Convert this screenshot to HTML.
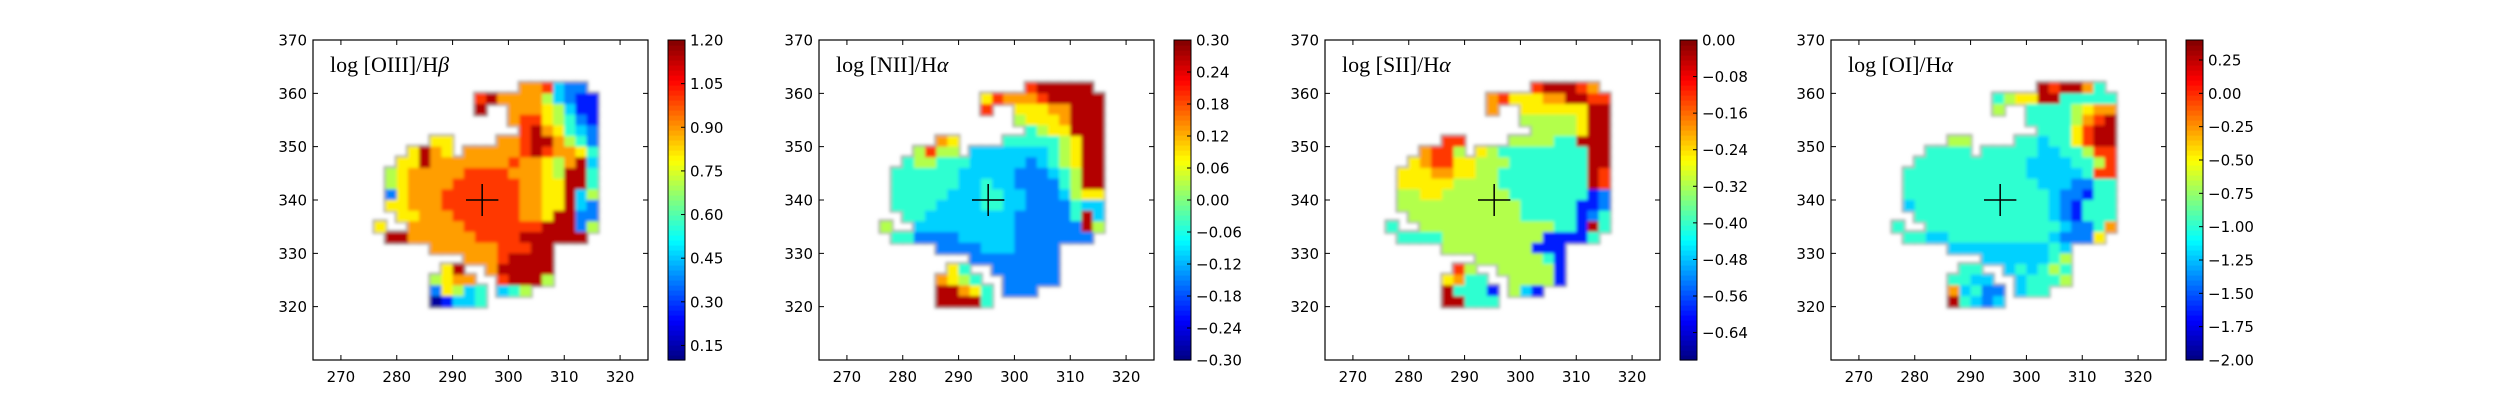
<!DOCTYPE html>
<html><head><meta charset="utf-8"><style>
html,body{margin:0;padding:0;background:#fff;}
svg{display:block;}
text{font-family:"DejaVu Sans","Liberation Sans",sans-serif;font-size:15px;fill:#000;}
.ttl{font-family:"Liberation Serif","DejaVu Serif",serif;font-size:22px;}
</style></head><body>
<svg id="fig" width="2500" height="400" viewBox="0 0 2500 400">
<defs><filter id="soft" x="-5%" y="-5%" width="110%" height="110%"><feGaussianBlur stdDeviation="1.6"/></filter></defs>
</svg>
<script>
// ---- data ----
const xTicks = [270, 280, 290, 300, 310, 320];
const yTicks = [320, 330, 340, 350, 360, 370];
const titles = ["OIII", "NII", "SII", "OI"];
const titleLines = ["β", "α", "α", "α"];
const cbMin = [0.10, -0.30, -0.70, -2.00];
const cbMax = [1.20, 0.30, 0.00, 0.40];
const cbTicks0 = ["0.15","0.30","0.45","0.60","0.75","0.90","1.05","1.20"];
const cbTicks1 = ["-0.30","-0.24","-0.18","-0.12","-0.06","0.00","0.06","0.12","0.18","0.24","0.30"];
const cbTicks2 = ["-0.64","-0.56","-0.48","-0.40","-0.32","-0.24","-0.16","-0.08","0.00"];
const cbTicks3 = ["-2.00","-1.75","-1.50","-1.25","-1.00","-0.75","-0.50","-0.25","0.00","0.25"];
// colour-level for each map digit (fraction of colour scale)
const levels = [0.03, 0.15, 0.25, 0.33, 0.42, 0.55, 0.64, 0.72, 0.82, 0.95];
const centerX = 295.3, centerY = 340;
const gridX0 = 276, gridYTop = 362, cell = 2;
const map0 = [
".............778322.",".........89777753211",".........9..77765311","............78865421",".............8976432",
".....66....778997542","...6976.777778987764","..669777777787765793",".5677777888877765994",".5677778888887766994",
".2677788888887766935",".6677788888887766932","..667778888887769922","6..77777888888899925",".997777778888999999.",
".....77777788899....","........77789999....","......69..799999....",".....5677..89995....",".....26534.345......",".....01334.........."];
const map1 = [
".............899999.",".........68777899999",".........8..66677999","............56667999",".............4566999",
".....76....444445699","...5855.333333345699","..455444333332345699",".4444443333322234599",".4444443343322224599",
".4444433344332223566",".4444333344332222433","..443333333322222493","5..33333333322222295",".442222333332222222.",
".....22223332222....","........22222222....","......64..222222....",".....7654..22222....",".....99764.222......",".....99994.........."];
const map2 = [
".............899987.",".........78666779988",".........7..66666699","............55555699",".............5555699",
".....88....555544999","...7885.654444444499","..678866555444444499",".6667766554444444498",".6666655554444444498",
".5566555555444444412",".5555555555544444112","..555555555544444124","4..55555555555544194",".444455555555511114.",
".....55555555111....","........55555541....","......85..555551....",".....6744..55551....",".....94441.531......",".....99444.........."];
const map3 = [
".............989974.",".........45669944444",".........5..44445677","............44445789",".............4446899",
".....55....443446899","...4444.444443344588","..444444444433334458",".4444444444433333488",".4444444444443332244",
".4444444444444322144",".3444444444444321444","..444444444444321444","4..44444444444432247",".443344444444432226.",
".....33333333343....","........33333345....","......44..343454....",".....4433..34445....",".....73422.344......",".....94323.........."];
const maps = [map0, map1, map2, map3];
const cbTicks = [cbTicks0, cbTicks1, cbTicks2, cbTicks3];

// ---- layout ----
const NS = "http://www.w3.org/2000/svg";
const svg = document.getElementById("fig");
const AX_W = 335, AX_TOP = 40, AX_H = 320, PANEL_STEP = 506, AX_LEFT0 = 313;
const XMIN = 265, XMAX = 325, YMIN = 310, YMAX = 370;
function jet(t){
  const c = v => Math.round(255*Math.max(0, Math.min(1, v)));
  return `rgb(${c(1.5-Math.abs(4*t-3))},${c(1.5-Math.abs(4*t-2))},${c(1.5-Math.abs(4*t-1))})`;
}
function el(tag, attrs, parent){
  const e = document.createElementNS(NS, tag);
  for (const k in attrs) e.setAttribute(k, attrs[k]);
  (parent||svg).appendChild(e);
  return e;
}
for (let p = 0; p < 4; p++){
  const L = AX_LEFT0 + p*PANEL_STEP;
  const sx = v => L + (v - XMIN) / (XMAX - XMIN) * AX_W;
  const sy = v => AX_TOP + (YMAX - v) / (YMAX - YMIN) * AX_H;
  const g = el("g", {});
  
  
  const hm = el("g", {filter: "url(#soft)"}, g);
  
  
  const m = maps[p];
  const cw = sx(gridX0 + cell) - sx(gridX0), ch = sy(0) - sy(cell);
  for (let r = 0; r < m.length; r++) for (let c = 0; c < m[r].length; c++){
    if (m[r][c] === ".") continue;
    el("rect", {x: sx(gridX0 + c*cell) - 2, y: sy(gridYTop - r*cell) - 2, width: cw + 4, height: ch + 4, fill: "#aaaaaa"}, hm);
  }
  for (let r = 0; r < m.length; r++) for (let c = 0; c < m[r].length; c++){
    const ch_ = m[r][c];
    if (ch_ === ".") continue;
    const cellEl = el("rect", {x: sx(gridX0 + c*cell), y: sy(gridYTop - r*cell), width: cw + 0.5, height: ch + 0.5, fill: jet(levels[parseInt(ch_)])}, hm);
    
    
  }
  const cr = el("path", {d: `M${sx(centerX-2.9)},${sy(centerY)}H${sx(centerX+2.9)}M${sx(centerX)},${sy(centerY+3)}V${sy(centerY-3)}`, stroke: "#000", "stroke-width": 1.5, fill: "none"}, g);
  
  
  const fr = el("rect", {x: L, y: AX_TOP, width: AX_W, height: AX_H, fill: "none", stroke: "#000", "stroke-width": 1.2}, g);
  
  
  xTicks.forEach(t => {
    const X = sx(t);
    el("path", {d: `M${X},${AX_TOP+AX_H}v-5M${X},${AX_TOP}v5`, stroke: "#000", "stroke-width": 1}, g);
    const tx = el("text", {x: X, y: AX_TOP + AX_H + 22, "text-anchor": "middle"}, g);
    tx.textContent = t;
    
    
  });
  yTicks.forEach(t => {
    const Y = sy(t);
    el("path", {d: `M${L},${Y}h5M${L+AX_W},${Y}h-5`, stroke: "#000", "stroke-width": 1}, g);
    const tx = el("text", {x: L - 6, y: Y + 5.5, "text-anchor": "end"}, g);
    tx.textContent = t;
    
    
  });
  const tt = el("text", {x: L + 17, y: 72, class: "ttl"}, g);
  tt.textContent = "log [" + titles[p] + "]/H";
  const gr = el("tspan", {"font-style": "italic"}, tt);
  gr.textContent = titleLines[p];
  
  
  const CL = L + 355, CW = 17;
  const cb = el("g", {});
  
  
  const steps = 64;
  for (let i = 0; i < steps; i++){
    el("rect", {x: CL, y: AX_TOP + AX_H - (i+1)*AX_H/steps, width: CW, height: AX_H/steps + 0.6, fill: jet((i+0.5)/steps)}, cb);
  }
  el("rect", {x: CL, y: AX_TOP, width: CW, height: AX_H, fill: "none", stroke: "#000", "stroke-width": 1}, cb);
  cbTicks[p].forEach(s => {
    const v = parseFloat(s);
    const Y = AX_TOP + (cbMax[p] - v) / (cbMax[p] - cbMin[p]) * AX_H;
    el("path", {d: `M${CL+CW},${Y}h-4`, stroke: "#000", "stroke-width": 1}, cb);
    const tx = el("text", {x: CL + CW + 5, y: Y + 5.5}, cb);
    tx.textContent = s.replace("-", "\u2212");
    
    
  });
}
</script>
</body></html>
